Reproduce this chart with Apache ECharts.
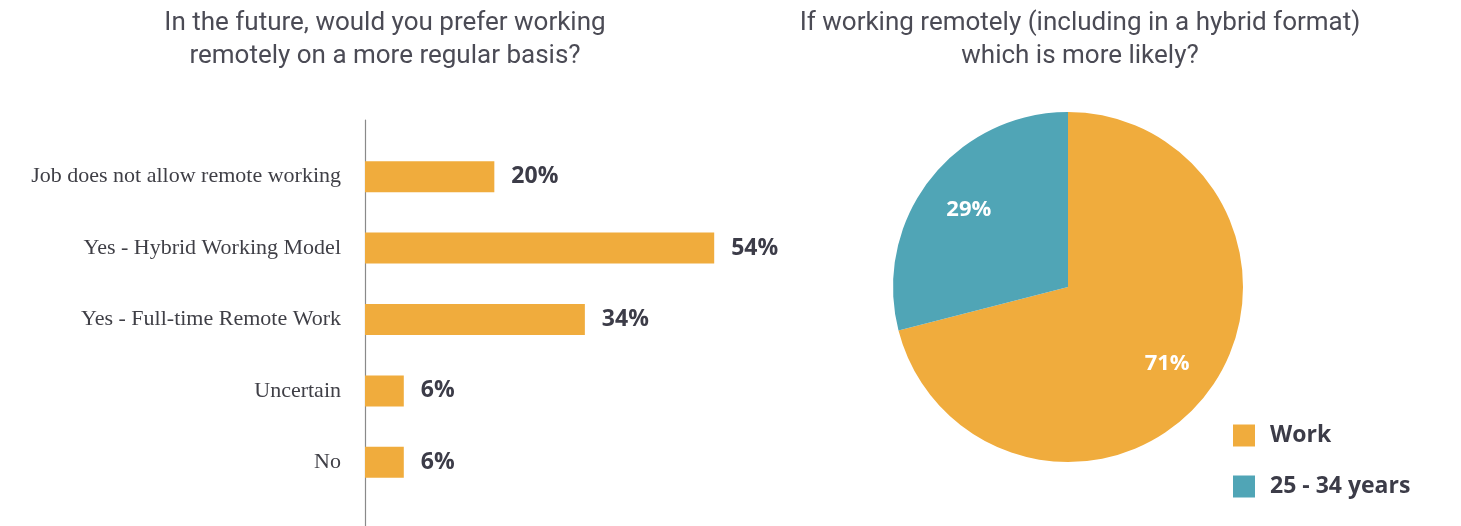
<!DOCTYPE html>
<html>
<head>
<meta charset="utf-8">
<script src="https://cdn.jsdelivr.net/npm/echarts@6/dist/echarts.min.js"></script>
<style>
html,body{margin:0;padding:0;background:#fff;}
#chart{width:1461px;height:526px;}
</style>
</head>
<body>
<div id="chart"></div>
<script>
const barCategories = ['Job does not allow remote working','Yes - Hybrid Working Model','Yes - Full-time Remote Work','Uncertain','No'];
const barValues = [20, 54, 34, 6, 6];
const pieNames = ['Work', '25 - 34 years'];
const pieValues = [71, 29];
const leftTitle = 'In the future, would you prefer working\nremotely on a more regular basis?';
const rightTitle = 'If working remotely (including in a hybrid format)\nwhich is more likely?';

const ORANGE = '#F0AC3D';
const TEAL = '#50A5B6';
const DARK = '#3C3C48';

const chart = echarts.init(document.getElementById('chart'), null, {renderer:'canvas'});
const pieData = pieNames.map((n,i)=>({name:n, value:pieValues[i]}));
chart.setOption({
  animation:false,
  backgroundColor:'#fff',
  title:[
    {text:leftTitle, left:380, top:2, textAlign:'center',
     textStyle:{fontFamily:'Roboto', fontWeight:'normal', fontSize:26, color:'#4B4B55', lineHeight:33}},
    {text:rightTitle, left:1075, top:2, textAlign:'center',
     textStyle:{fontFamily:'Roboto', fontWeight:'normal', fontSize:26, color:'#4B4B55', lineHeight:33}}
  ],
  legend:{
    orient:'vertical', left:1228, top:419, itemWidth:22, itemHeight:22, itemGap:28,
    icon:'rect', data:pieNames,
    textStyle:{fontFamily:'Open Sans', fontWeight:'bold', fontSize:23, color:DARK, padding:[0,0,0,10]}
  },
  grid:[
    {left:365, top:141, width:388, height:357, containLabel:false},
    {left:365, top:120, width:100, bottom:0}
  ],
  xAxis:[
    {type:'value', gridIndex:0, min:0, max:60, show:false},
    {type:'value', gridIndex:1, show:false}
  ],
  yAxis:[
    {type:'category', gridIndex:0, data:barCategories, inverse:true,
     axisLine:{show:false}, axisTick:{show:false},
     axisLabel:{margin:24, fontFamily:'Liberation Serif', fontSize:22, color:'#3F3F46'}},
    {type:'value', gridIndex:1, axisLine:{show:true, lineStyle:{color:'#8A8A8A', width:1.2}},
     axisTick:{show:false}, axisLabel:{show:false}, splitLine:{show:false}}
  ],
  series:[
    {type:'bar', xAxisIndex:0, yAxisIndex:0, data:barValues, barWidth:31,
     itemStyle:{color:ORANGE},
     label:{show:true, position:'right', distance:17, formatter:'{c}%',
       fontFamily:'Open Sans', fontWeight:'bold', fontSize:23, color:DARK}},
    {type:'pie', center:[1068,287], radius:175, startAngle:90, clockwise:true,
     data:pieData, color:[ORANGE, TEAL], label:{show:false}, labelLine:{show:false},
     itemStyle:{borderWidth:0}, emphasis:{disabled:true}},
    {type:'pie', center:[1068,287], radius:[70,175], startAngle:90, clockwise:true,
     data:pieData, color:['rgba(0,0,0,0)','rgba(0,0,0,0)'], silent:true, legendHoverLink:false,
     itemStyle:{color:'rgba(0,0,0,0)', borderWidth:0}, labelLine:{show:false}, emphasis:{disabled:true},
     label:{show:true, position:'inside', formatter:'{c}%', fontFamily:'Open Sans', fontWeight:'bold', fontSize:22, color:'#fff'}}
  ]
});
</script>
</body>
</html>
